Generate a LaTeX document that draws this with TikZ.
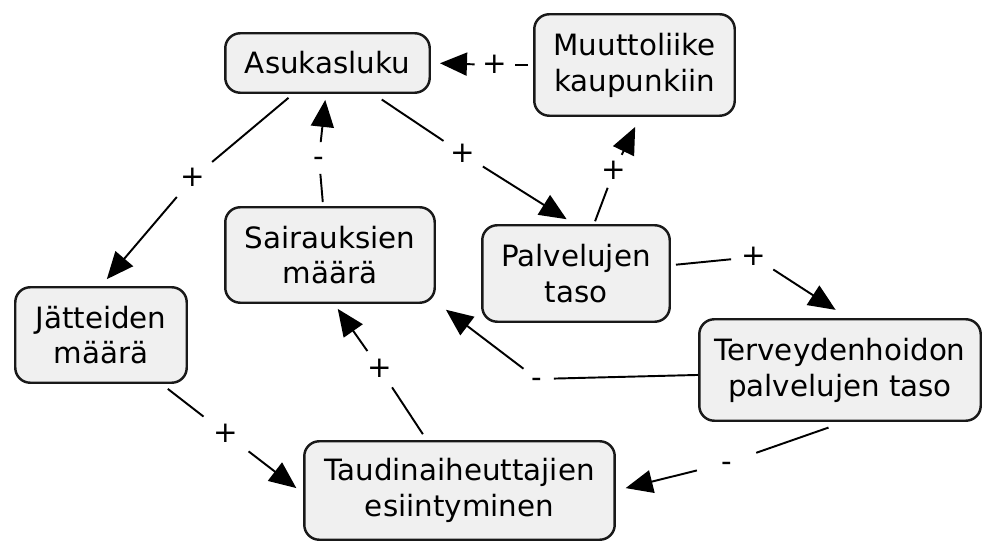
\documentclass[tikz,border=0pt]{standalone}
\usepackage{fontspec}
\setmainfont{DejaVu Sans}
\usetikzlibrary{arrows.meta}

\begin{document}
\begin{tikzpicture}[x=0.02cm,y=-0.02cm,line width=1.1pt,
  >={Triangle[length=0.54cm,width=0.46cm]},
  box/.style={draw=black!90,line width=1.4pt,fill=black!6,rounded corners=0.3cm,
    align=center,inner sep=0pt,font={\fontsize{16.7}{20.4}\selectfont}},
  sign/.style={circle,inner sep=0pt,minimum size=0.84cm,text height=10pt,text depth=0pt,
    font={\fontsize{16.7}{20.4}\selectfont}},
  link/.style={shorten <=0.12cm},
  arrow/.style={->,shorten >=0.18cm}]
\useasboundingbox (0,0) rectangle (983,543);
% ---------- concepts ----------
\node[box,minimum width=4.09cm,minimum height=1.19cm] (asuk) at (327.5,63) {Asukasluku};
\node[box,minimum width=4.01cm,minimum height=2.03cm] (muut) at (634.5,65) {Muuttoliike\\kaupunkiin};
\node[box,minimum width=4.19cm,minimum height=1.91cm] (sair) at (330,255) {Sairauksien\\määrä};
\node[box,minimum width=3.75cm,minimum height=1.93cm] (palv) at (576,273.5) {Palvelujen\\taso};
\node[box,minimum width=3.43cm,minimum height=1.91cm] (jatt) at (101,335) {Jätteiden\\määrä};
\node[box,minimum width=5.63cm,minimum height=2.03cm] (terv) at (840,370) {Terveydenhoidon\\palvelujen taso};
\node[box,minimum width=6.21cm,minimum height=1.97cm] (taud) at (459.5,490.5) {Taudinaiheuttajien\\esiintyminen};
% ---------- signs on the links ----------
\node[sign,minimum size=0.96cm] (s1) at (193,178) {+};
\node[sign,minimum size=0.78cm] (s2) at (495,65) {+};
\node[sign,minimum size=0.9cm] (s3) at (463,154) {+};
\node[sign,minimum size=0.68cm] (s4) at (614,171) {+};
\node[sign,minimum size=0.88cm] (s5) at (754,257) {+};
\node[sign,minimum size=0.64cm] (s6) at (537,379) {-};
\node[sign,minimum size=1.2cm] (s7) at (727,463) {-};
\node[sign,minimum size=1.1cm] (s8) at (226,434) {+};
\node[sign] (s9) at (380,369) {+};
\node[sign,minimum size=0.6cm] (s10) at (319,158) {-};
% ---------- links ----------
\draw[link] (asuk.-138) -- (s1);  \draw[arrow] (s1) -- (jatt.90);
\draw[link,shorten <=0.1cm] (muut.west) -- (s2);  \draw[arrow] (s2) -- (asuk.east);
\draw[link,shorten <=0.2cm] (asuk.-34) -- (s3);  \draw[arrow] (s3) -- (palv.92);
\draw[link,shorten <=0.06cm] (palv.70) -- (s4);  \draw[arrow,shorten >=0.22cm] (s4) -- (muut.-84);
\draw[link,shorten <=0.1cm] (palv.5) -- (s5);  \draw[arrow,shorten >=0.3cm] (s5) -- (terv.81);
\draw[link,shorten <=0pt] (terv.182) -- (s6);  \draw[arrow,shorten >=0.25cm] (s6) -- (sair.-24);
\draw[link,shorten <=0.34cm] (terv.-85) -- (s7);  \draw[arrow,shorten >=0.2cm] (s7) -- (taud.east);
\draw[link,shorten <=0.16cm] (jatt.-39) -- (s8);  \draw[arrow,shorten >=0.17cm] (s8) -- (taud.181);
\draw[link,shorten <=0.14cm] (taud.123) -- (s9);  \draw[arrow,shorten >=0.12cm] (s9) -- (sair.-85);
\draw[link,shorten <=0.08cm] (sair.98) -- (s10);  \draw[arrow,shorten >=0.12cm] (s10) -- (asuk.-93);
\end{tikzpicture}
\end{document}
